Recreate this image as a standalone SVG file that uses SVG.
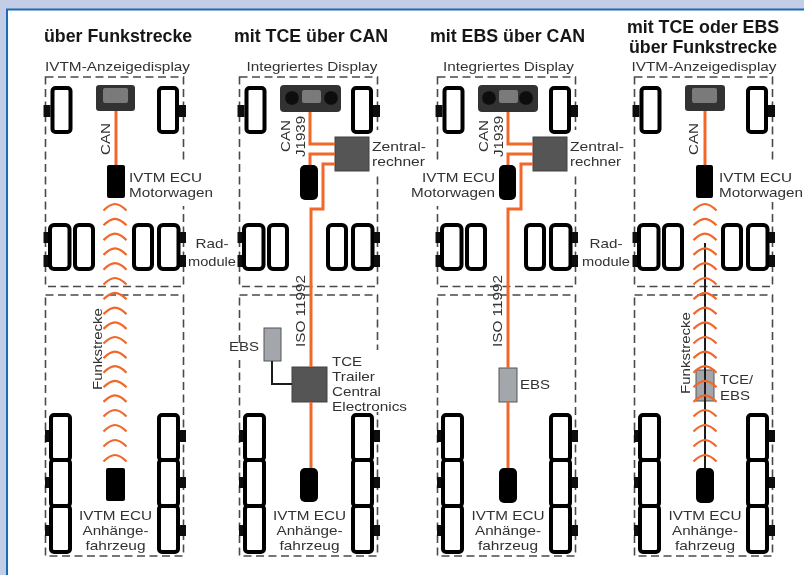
<svg xmlns="http://www.w3.org/2000/svg" xmlns:xlink="http://www.w3.org/1999/xlink" width="804" height="575" viewBox="0 0 804 575">
<style>
text{font-family:"Liberation Sans",Arial,sans-serif;fill:#333;font-size:13px;lengthAdjust:spacingAndGlyphs}
.title{font-weight:bold;font-size:17.8px;fill:#161616}
.m{text-anchor:middle}
.e{text-anchor:end}
.dash{fill:none;stroke:#4a4a4a;stroke-width:1.6;stroke-dasharray:8 4.5}
.wheel{fill:#fff;stroke:#000;stroke-width:4}
.hub{fill:#111}
.ecu{fill:#000}
.disp{fill:#333}
.screen{fill:#7a7a7a}
.cpu{fill:#555;stroke:#444}
.ebs{fill:#a3a7ab;stroke:#555}
.gap{fill:#fff}
.or{fill:none;stroke:#f2672a;stroke-width:3}
.bk{fill:none;stroke:#1a1a1a;stroke-width:2}
.chev{fill:none;stroke:#f2672a;stroke-width:2.2}
</style>
<defs>
<filter id="soft" filterUnits="userSpaceOnUse" x="0" y="0" width="804" height="575"><feGaussianBlur stdDeviation="0.65"/></filter>
<path id="c" class="chev" d="M-11.500,6.500 Q-5,0 0,0 Q5,0 11.500,6.500"/>
<g id="chevrons">
<use xlink:href="#c" href="#c" y="204"/><use xlink:href="#c" href="#c" y="218.800"/><use xlink:href="#c" href="#c" y="233.600"/><use xlink:href="#c" href="#c" y="248.400"/><use xlink:href="#c" href="#c" y="263.200"/><use xlink:href="#c" href="#c" y="278"/><use xlink:href="#c" href="#c" y="292.800"/><use xlink:href="#c" href="#c" y="307.600"/><use xlink:href="#c" href="#c" y="322.400"/><use xlink:href="#c" href="#c" y="337"/><use xlink:href="#c" href="#c" y="351.600"/><use xlink:href="#c" href="#c" y="366.200"/><use xlink:href="#c" href="#c" y="380.800"/><use xlink:href="#c" href="#c" y="395.400"/><use xlink:href="#c" href="#c" y="410"/><use xlink:href="#c" href="#c" y="425"/><use xlink:href="#c" href="#c" y="440"/><use xlink:href="#c" href="#c" y="455"/>
</g>
<g id="chassis">
<rect class="dash" x="45.500" y="77" width="138" height="209.500"/>
<rect class="dash" x="45.500" y="295" width="138" height="261"/>
<rect class="hub" x="43.500" y="105" width="7" height="12"/><rect class="hub" x="178" y="105" width="8" height="12"/>
<rect class="hub" x="43.500" y="232" width="6" height="11"/><rect class="hub" x="43.500" y="255" width="6" height="12"/>
<rect class="hub" x="179" y="232" width="7" height="11"/><rect class="hub" x="179" y="255" width="7" height="12"/>
<rect class="hub" x="45" y="430" width="6" height="12"/><rect class="hub" x="45" y="477" width="6" height="11"/><rect class="hub" x="45" y="525" width="6" height="11"/>
<rect class="hub" x="178" y="430" width="8" height="12"/><rect class="hub" x="178" y="477" width="8" height="11"/><rect class="hub" x="178" y="525" width="8" height="11"/>
<rect class="wheel" x="52.500" y="88" width="18" height="44" rx="3"/><rect class="wheel" x="159" y="88" width="18" height="44" rx="3"/>
<rect class="wheel" x="50" y="225" width="19.500" height="44" rx="4"/><rect class="wheel" x="75" y="225" width="18" height="44" rx="4"/>
<rect class="wheel" x="134" y="225" width="18" height="44" rx="4"/><rect class="wheel" x="159" y="225" width="19.500" height="44" rx="4"/>
<rect class="wheel" x="51" y="415" width="19" height="45" rx="3"/><rect class="wheel" x="51" y="460" width="19" height="46" rx="3"/><rect class="wheel" x="51" y="506" width="19" height="46" rx="3"/>
<rect class="wheel" x="159" y="415" width="19" height="45" rx="3"/><rect class="wheel" x="159" y="460" width="19" height="46" rx="3"/><rect class="wheel" x="159" y="506" width="19" height="46" rx="3"/>
</g>
</defs>
<rect width="804" height="575" fill="#c3cde6"/>
<rect x="7" y="9.500" width="800" height="570" fill="#fff" stroke="#1b6cb8" stroke-width="2"/>
<g filter="url(#soft)">
<g id="chassis-1"><use xlink:href="#chassis" href="#chassis"/></g>
<g id="chassis-2"><use xlink:href="#chassis" href="#chassis" x="194"/></g>
<g id="chassis-3"><use xlink:href="#chassis" href="#chassis" x="392"/></g>
<g id="chassis-4"><use xlink:href="#chassis" href="#chassis" x="589"/></g>
<g id="gaps">
<rect class="gap" x="181" y="164" width="5" height="42"/>
<rect class="gap" x="375.500" y="130" width="5" height="46"/><rect class="gap" x="375.500" y="350" width="5" height="62"/>
<rect class="gap" x="237" y="344" width="5" height="14"/>
<rect class="gap" x="435" y="164" width="5" height="42"/><rect class="gap" x="573.500" y="130" width="5" height="46"/>
<rect class="gap" x="770.500" y="164" width="5" height="38"/>
</g>

<g id="col-1">
<text class="title" x="44" y="42">über Funkstrecke</text>
<text class="m" x="117.500" y="71" textLength="145" lengthAdjust="spacingAndGlyphs">IVTM-Anzeigedisplay</text>
<g id="display-1"><rect class="disp" x="96" y="85" width="39" height="26" rx="3"/><rect class="screen" x="103" y="88" width="25" height="15" rx="2"/></g>
<g id="ecu-1"><rect class="ecu" x="107" y="165" width="18" height="33" rx="2"/><text x="129" y="182" textLength="73" lengthAdjust="spacingAndGlyphs">IVTM ECU</text><text x="129" y="197" textLength="84" lengthAdjust="spacingAndGlyphs">Motorwagen</text></g>
<g id="rad-1"><text class="m" x="212" y="248" textLength="33" lengthAdjust="spacingAndGlyphs">Rad-</text><text class="m" x="212" y="266" textLength="48" lengthAdjust="spacingAndGlyphs">module</text></g>
<g id="trailer-ecu-1"><rect class="ecu" x="106" y="468" width="19" height="33" rx="2"/><text class="m" x="115.500" y="520" textLength="73" lengthAdjust="spacingAndGlyphs">IVTM ECU</text><text class="m" x="115.500" y="535" textLength="66" lengthAdjust="spacingAndGlyphs">Anhänge-</text><text class="m" x="115.500" y="550" textLength="60" lengthAdjust="spacingAndGlyphs">fahrzeug</text></g>
<text transform="translate(110 155) rotate(-90)" textLength="32" lengthAdjust="spacingAndGlyphs">CAN</text>
<text transform="translate(102 390) rotate(-90)" textLength="82" lengthAdjust="spacingAndGlyphs">Funkstrecke</text>
</g>

<g id="col-2">
<text class="title" x="234" y="42">mit TCE über CAN</text>
<text class="m" x="312" y="71" textLength="131" lengthAdjust="spacingAndGlyphs">Integriertes Display</text>
<g id="display-2"><rect class="disp" x="280" y="85" width="61" height="27" rx="4"/><circle cx="292" cy="98" r="7" fill="#111"/><circle cx="331" cy="98" r="7" fill="#111"/><rect class="screen" x="302" y="90" width="19" height="13" rx="2"/></g>
<g id="cpu-2"><rect class="cpu" x="335" y="137" width="34" height="34"/><text x="372" y="151" textLength="54" lengthAdjust="spacingAndGlyphs">Zentral-</text><text x="372" y="166" textLength="53" lengthAdjust="spacingAndGlyphs">rechner</text></g>
<g id="ecu-2"><rect class="ecu" x="300" y="165" width="18" height="35" rx="5"/></g>
<text transform="translate(290 152) rotate(-90)" textLength="32" lengthAdjust="spacingAndGlyphs">CAN</text>
<text transform="translate(305 157) rotate(-90)" textLength="41" lengthAdjust="spacingAndGlyphs">J1939</text>
<text transform="translate(305 347) rotate(-90)" textLength="72" lengthAdjust="spacingAndGlyphs">ISO 11992</text>
<g id="ebs-2"><rect class="ebs" x="264" y="328" width="17" height="33"/><text x="229" y="351" textLength="30" lengthAdjust="spacingAndGlyphs">EBS</text></g>
<g id="tce-2"><rect class="cpu" x="292" y="367" width="35" height="35"/><text x="332" y="366" textLength="30" lengthAdjust="spacingAndGlyphs">TCE</text><text x="332" y="381" textLength="43" lengthAdjust="spacingAndGlyphs">Trailer</text><text x="332" y="396" textLength="49" lengthAdjust="spacingAndGlyphs">Central</text><text x="332" y="411" textLength="75" lengthAdjust="spacingAndGlyphs">Electronics</text></g>
<g id="trailer-ecu-2"><rect class="ecu" x="300" y="468" width="18" height="34" rx="5"/><text class="m" x="309.500" y="520" textLength="73" lengthAdjust="spacingAndGlyphs">IVTM ECU</text><text class="m" x="309.500" y="535" textLength="66" lengthAdjust="spacingAndGlyphs">Anhänge-</text><text class="m" x="309.500" y="550" textLength="60" lengthAdjust="spacingAndGlyphs">fahrzeug</text></g>
</g>

<g id="col-3">
<text class="title" x="430" y="42">mit EBS über CAN</text>
<text class="m" x="508.500" y="71" textLength="131" lengthAdjust="spacingAndGlyphs">Integriertes Display</text>
<g id="display-3"><rect class="disp" x="478" y="85" width="60" height="27" rx="4"/><circle cx="489" cy="98" r="7" fill="#111"/><circle cx="526" cy="98" r="7" fill="#111"/><rect class="screen" x="499" y="90" width="19" height="13" rx="2"/></g>
<g id="cpu-3"><rect class="cpu" x="533" y="137" width="34" height="34"/><text x="570" y="151" textLength="54" lengthAdjust="spacingAndGlyphs">Zentral-</text><text x="570" y="166" textLength="51" lengthAdjust="spacingAndGlyphs">rechner</text></g>
<g id="ecu-3"><rect class="ecu" x="499" y="165" width="17" height="35" rx="5"/><text x="422" y="182" textLength="73" lengthAdjust="spacingAndGlyphs">IVTM ECU</text><text x="411" y="197" textLength="84" lengthAdjust="spacingAndGlyphs">Motorwagen</text></g>
<g id="rad-3"><text class="m" x="606" y="248" textLength="33" lengthAdjust="spacingAndGlyphs">Rad-</text><text class="m" x="606" y="266" textLength="48" lengthAdjust="spacingAndGlyphs">module</text></g>
<text transform="translate(488 152) rotate(-90)" textLength="32" lengthAdjust="spacingAndGlyphs">CAN</text>
<text transform="translate(503 157) rotate(-90)" textLength="41" lengthAdjust="spacingAndGlyphs">J1939</text>
<text transform="translate(502 347) rotate(-90)" textLength="72" lengthAdjust="spacingAndGlyphs">ISO 11992</text>
<g id="ebs-3"><rect class="ebs" x="499" y="368" width="18" height="34"/><text x="520" y="389" textLength="30" lengthAdjust="spacingAndGlyphs">EBS</text></g>
<g id="trailer-ecu-3"><rect class="ecu" x="499" y="468" width="18" height="35" rx="5"/><text class="m" x="508" y="520" textLength="73" lengthAdjust="spacingAndGlyphs">IVTM ECU</text><text class="m" x="508" y="535" textLength="66" lengthAdjust="spacingAndGlyphs">Anhänge-</text><text class="m" x="508" y="550" textLength="60" lengthAdjust="spacingAndGlyphs">fahrzeug</text></g>
</g>

<g id="col-4">
<text class="title" x="627" y="33">mit TCE oder EBS</text>
<text class="title" x="629" y="53">über Funkstrecke</text>
<text class="m" x="704" y="71" textLength="145" lengthAdjust="spacingAndGlyphs">IVTM-Anzeigedisplay</text>
<g id="display-4"><rect class="disp" x="685" y="85" width="40" height="26" rx="3"/><rect class="screen" x="692" y="88" width="25" height="15" rx="2"/></g>
<g id="ecu-4"><rect class="ecu" x="696" y="165" width="17" height="33" rx="2"/><text x="719" y="182" textLength="73" lengthAdjust="spacingAndGlyphs">IVTM ECU</text><text x="719" y="197" textLength="84" lengthAdjust="spacingAndGlyphs">Motorwagen</text></g>
<text transform="translate(698 155) rotate(-90)" textLength="32" lengthAdjust="spacingAndGlyphs">CAN</text>
<text transform="translate(690 394) rotate(-90)" textLength="82" lengthAdjust="spacingAndGlyphs">Funkstrecke</text>
<g id="tce-ebs-4"><rect class="ebs" x="696" y="370" width="18" height="31"/><text x="720" y="384" textLength="33" lengthAdjust="spacingAndGlyphs">TCE/</text><text x="720" y="400" textLength="30" lengthAdjust="spacingAndGlyphs">EBS</text></g>
<g id="trailer-ecu-4"><rect class="ecu" x="696" y="468" width="18" height="35" rx="5"/><text class="m" x="705" y="520" textLength="73" lengthAdjust="spacingAndGlyphs">IVTM ECU</text><text class="m" x="705" y="535" textLength="66" lengthAdjust="spacingAndGlyphs">Anhänge-</text><text class="m" x="705" y="550" textLength="60" lengthAdjust="spacingAndGlyphs">fahrzeug</text></g>
</g>

<g id="connectors">
<path class="or" d="M116,111V165"/>
<use xlink:href="#chevrons" href="#chevrons" x="115"/>
<path class="or" d="M310,112V144H335M335,154H310V165M335,164H323V209H311V367M311,402V468"/>
<path class="bk" d="M272,361V384H292"/>
<path class="or" d="M508,112V144H533M533,154H508V165M533,164H521V209H508V368M508,402V468"/>
<path class="or" d="M705,111V165"/>
<path class="bk" d="M705,243V468"/>
<use xlink:href="#chevrons" href="#chevrons" x="705"/>
</g>
</g>
</svg>
